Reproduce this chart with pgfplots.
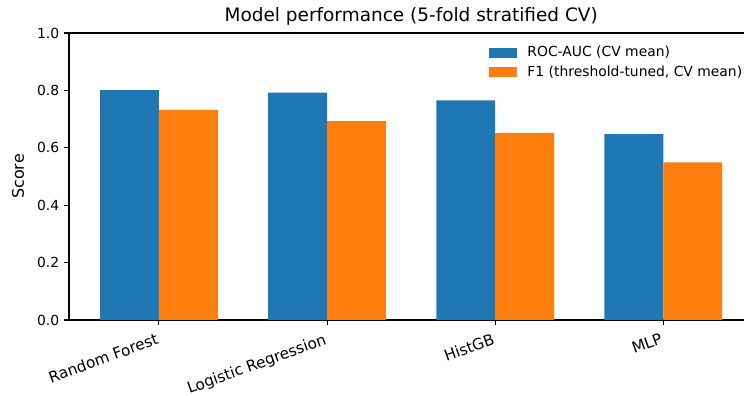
\documentclass[border=0pt]{standalone}
\usepackage{pgfplots}
\pgfplotsset{compat=1.18}
\usepackage{fontspec}
\setmainfont{DejaVu Sans}
\definecolor{cA}{HTML}{1F77B4}
\definecolor{cB}{HTML}{FF7F0E}
\begin{document}
\begin{tikzpicture}
\begin{axis}[
  at={(0pt,0pt)}, anchor=south west,
  scale only axis, width=486pt, height=206.64pt,
  xmin=-0.535, xmax=3.48, ymin=0, ymax=1.0,
  axis lines*=left, axis line style={-, line width=0.8pt},
  tick align=outside, major tick length=3.5pt,
  tick style={black, line width=0.8pt},
  xtick={0,1,2,3},
  xticklabels={Random Forest, Logistic Regression, HistGB, MLP},
  xticklabel style={xshift=-2pt, yshift=-4.3pt, rotate=20, anchor=north east, inner sep=1pt, font=\fontsize{11}{13}\selectfont},
  ytick={0,0.2,0.4,0.6,0.8,1.0},
  yticklabel style={font=\fontsize{10}{12}\selectfont},
  /pgf/number format/assume math mode=true,
  yticklabel={\pgfmathprintnumber[fixed, fixed zerofill, precision=1]{\tick}},
  ylabel={Score},
  ylabel style={at={(axis description cs:-0.0756,0.5)}, anchor=center, font=\fontsize{11.5}{14}\selectfont},
  title={Model performance (5-fold stratified CV)},
  title style={at={(axis description cs:0.507,1)}, anchor=south, inner sep=0pt, yshift=-1pt, font=\fontsize{13.3}{16}\selectfont},
  ybar, bar width=0.35,
  legend style={at={(axis description cs:0.6222,0.964)}, anchor=north west, draw=none, fill=none, inner sep=0pt,
    font=\fontsize{10}{12}\selectfont, row sep=1pt, column sep=5.5pt, nodes={inner sep=2pt}},
  legend cell align=left,
  legend image code/.code={\fill[#1] (0pt,-3.5pt) rectangle (20pt,3.5pt);},
]
\addplot[fill=cA, draw=none, bar shift=-0.175] coordinates {(0,0.801) (1,0.792) (2,0.765) (3,0.648)};
\addplot[fill=cB, draw=none, bar shift=0.175] coordinates {(0,0.732) (1,0.693) (2,0.652) (3,0.549)};
\legend{{ROC-AUC (CV mean)}, {F1 (threshold-tuned, CV mean)}}
\draw[line width=0.8pt] (rel axis cs:0,1) -- (rel axis cs:1.02,1);
\end{axis}
\pgfresetboundingbox
\path[use as bounding box] (-49.68pt,-54.72pt) rectangle (486pt,230.4pt);
\end{tikzpicture}
\end{document}
